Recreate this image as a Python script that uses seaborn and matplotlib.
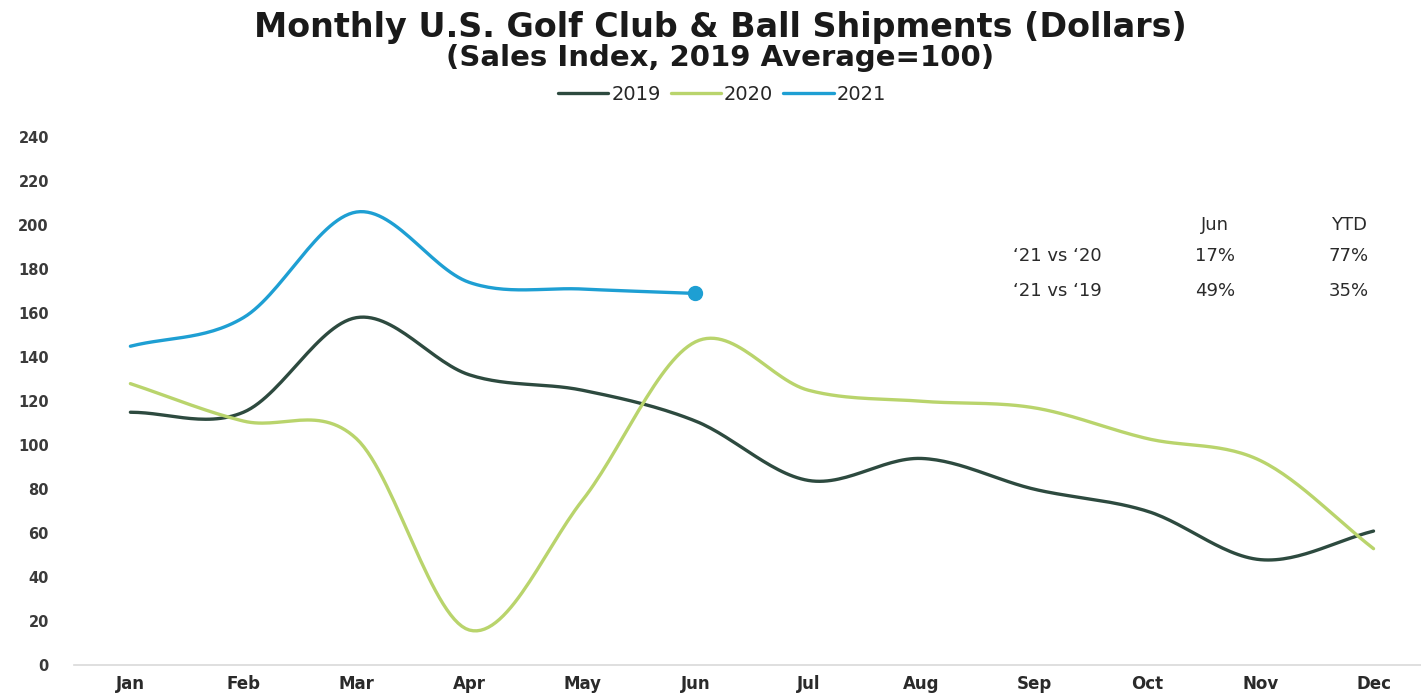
import numpy as np
import pandas as pd
import seaborn as sns
import matplotlib
matplotlib.use("Agg")
import matplotlib.pyplot as plt

# monthly sales index values (2019 average = 100)
months = ["Jan", "Feb", "Mar", "Apr", "May", "Jun", "Jul", "Aug", "Sep", "Oct", "Nov", "Dec"]
idx_2019 = [115, 115, 158, 132, 125, 111, 84, 94, 80, 70, 48, 61]
idx_2020 = [128, 111, 103, 16, 75, 147, 125, 120, 117, 103, 93, 53]
idx_2021 = [145, 158, 206, 174, 171, 169]

# comparison table in the upper right
table_cols = ["Jun", "YTD"]
table_rows = ["\u201821 vs \u201820", "\u201821 vs \u201819"]
table_vals = [["17%", "77%"], ["49%", "35%"]]

colors = {"2019": "#2d4a3f", "2020": "#b9d46c", "2021": "#1e9fd3"}


def smooth(y, n=30):
    # catmull-rom style smoothing, like the "smoothed line" option in office charts
    y = np.asarray(y, dtype=float)
    p = np.concatenate([[2 * y[0] - y[1]], y, [2 * y[-1] - y[-2]]])
    xs, ys = [], []
    for i in range(len(y) - 1):
        p0, p1, p2, p3 = p[i], p[i + 1], p[i + 2], p[i + 3]
        t = np.linspace(0, 1, n, endpoint=False)
        yy = 0.5 * ((2 * p1) + (-p0 + p2) * t + (2 * p0 - 5 * p1 + 4 * p2 - p3) * t ** 2
                    + (-p0 + 3 * p1 - 3 * p2 + p3) * t ** 3)
        xs.append(i + t)
        ys.append(yy)
    xs.append([len(y) - 1])
    ys.append([y[-1]])
    return np.concatenate(xs), np.concatenate(ys)


frames = []
for year, vals in [("2019", idx_2019), ("2020", idx_2020), ("2021", idx_2021)]:
    sx, sy = smooth(vals)
    frames.append(pd.DataFrame({"x": sx, "Index": sy, "Year": year}))
df = pd.concat(frames, ignore_index=True)

sns.set_style("white")
plt.rcParams["font.family"] = ["DejaVu Sans"]

fig = plt.figure(figsize=(14.21, 6.93), dpi=100)
ax = fig.add_axes([0.052, 0.040, 0.948, 0.762])

sns.lineplot(data=df, x="x", y="Index", hue="Year", palette=colors, linewidth=2.4,
             sort=False, estimator=None, ax=ax)
# end point marker for 2021
ax.plot(len(idx_2021) - 1, idx_2021[-1], "o", color=colors["2021"], markersize=10, zorder=5)

ax.set_xlim(-0.5, 11.42)
ax.set_ylim(0, 240)
ax.set_xticks(range(len(months)))
ax.set_xticklabels(months)
ax.set_yticks(np.arange(0, 241, 20))
ax.set_xlabel("")
ax.set_ylabel("")
ax.tick_params(axis="y", length=0, pad=18, labelsize=10.5, labelcolor="#3a3a3a")
ax.tick_params(axis="x", length=0, pad=7, labelsize=12, labelcolor="#2a2a2a")
for lab in ax.get_xticklabels() + ax.get_yticklabels():
    lab.set_fontweight("bold")
for s in ["top", "right", "left"]:
    ax.spines[s].set_visible(False)
ax.spines["bottom"].set_color("#d9d9d9")
ax.spines["bottom"].set_linewidth(1.2)

ax.legend(loc="upper center", bbox_to_anchor=(0.508, 0.903), bbox_transform=fig.transFigure,
          ncol=3, frameon=False, fontsize=14, handlelength=2.6, handletextpad=0.15,
          columnspacing=0.5)

fig.text(0.507, 0.961, "Monthly U.S. Golf Club & Ball Shipments (Dollars)", ha="center",
         va="center", fontsize=24, fontweight="bold", color="#1a1a1a")
fig.text(0.507, 0.916, "(Sales Index, 2019 Average=100)", ha="center", va="center",
         fontsize=21, fontweight="bold", color="#1a1a1a")

# small comparison table
col_x = [0.855, 0.949]
row_y = [0.630, 0.580]
for cx, c in zip(col_x, table_cols):
    fig.text(cx, 0.676, c, ha="center", va="center", fontsize=13, color="#2a2a2a")
for ry, r, vals in zip(row_y, table_rows, table_vals):
    fig.text(0.744, ry, r, ha="center", va="center", fontsize=13, color="#2a2a2a")
    for cx, v in zip(col_x, vals):
        fig.text(cx, ry, v, ha="center", va="center", fontsize=13, color="#2a2a2a")

fig.savefig("out.png", dpi=100)
